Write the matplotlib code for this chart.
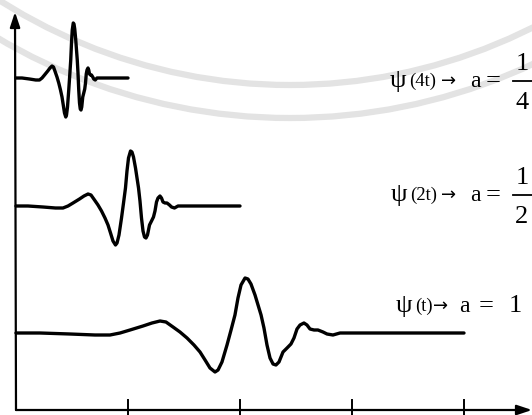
import matplotlib
matplotlib.use("Agg")
import matplotlib.pyplot as plt
from matplotlib.patches import Arc
import numpy as np

# Mother wavelet psi(t), read from the a=1 trace (t in tick units, value in px above baseline)
psi_t = [0.0, 0.214, 0.482, 0.705, 0.839, 0.929, 1.018, 1.134, 1.214, 1.286,
         1.339, 1.402, 1.464, 1.527, 1.589, 1.643, 1.688, 1.732, 1.777, 1.804,
         1.839, 1.884, 1.920, 1.955, 1.982, 2.009, 2.045, 2.071, 2.098, 2.134,
         2.161, 2.188, 2.214, 2.241, 2.268, 2.295, 2.321, 2.348, 2.384, 2.420,
         2.455, 2.482, 2.509, 2.536, 2.571, 2.598, 2.625, 2.661, 2.696, 2.741,
         2.777, 2.830, 2.893, 2.982, 4.0]
psi_v = [0, 0, -1, -2, -2, 0, 3, 7, 10, 12,
         11, 6, 1, -5, -12, -19, -27, -35, -39, -37,
         -29, -12, 3, 18, 35, 48, 55, 54, 49, 38,
         28, 18, 5, -12, -25, -31, -32, -29, -19, -15,
         -11, -5, 4, 8, 10, 8, 4, 3, 3, 1,
         -1, -2, 0, 0, 0]

scales = [1.0, 0.5, 0.25]           # a
offsets = [77, 204, 332]            # baseline heights of each trace
x_ticks = [1, 2, 3, 4]

W, H = 532, 415
fig = plt.figure(figsize=(W / 100, H / 100), dpi=100)
ax = fig.add_axes([0, 0, 1, 1])
ax.set_xlim(-16 / 112, (W - 16) / 112)
ax.set_ylim(-5, 410)
ax.axis("off")

def P(px, py):
    return (px - 16) / 112, 410 - py

# faint watermark arcs
cx, cy = P(290, -456)
for r in (541, 574):
    ax.add_patch(Arc((cx, cy), 2 * r / 112, 2 * r, theta1=180, theta2=360,
                     color="#e3e3e3", lw=4.5, zorder=0))

# axes with arrows
ax.annotate("", xy=P(532, 410), xytext=(0, 0),
            arrowprops=dict(arrowstyle="-|>,head_length=0.9,head_width=0.3",
                            lw=1.6, color="black", shrinkA=0, shrinkB=0))
ax.annotate("", xy=P(15, 12), xytext=(0, 0),
            arrowprops=dict(arrowstyle="-|>,head_length=0.9,head_width=0.3",
                            lw=1.6, color="black", shrinkA=0, shrinkB=0))
for xt in x_ticks:
    ax.plot([xt, xt], [-6, 10], color="black", lw=1.4)

# wavelet traces
t = np.array(psi_t)
v = np.array(psi_v)
for a, off in zip(scales, offsets):
    ax.plot(t * a, v + off, color="black", lw=2.4, solid_joinstyle="round",
            solid_capstyle="round")

serif = ["Liberation Serif", "DejaVu Serif"]

def txt(px, py, s, size, fam=serif):
    x, y = P(px, py)
    ax.text(x, y, s, fontsize=size, family=fam, ha="left", va="baseline")

# labels
rows = [
    # (psi_x, baseline_y, arg, arrow_x, fraction)
    (390, 87, "(4t)", 441, ("1", "4")),
    (391, 201, "(2t)", 441, ("1", "2")),
    (396, 312, "(t)", 433, None),
]
for px, py, arg, arx, frac in rows:
    txt(px, py, "\u03c8", 19)
    txt(px + 19, py - 1, arg, 13.5)
    txt(arx, py - 1, "\u2192", 13, ["DejaVu Sans"])
    txt(470 if frac else 459, py, "a", 17)
    txt(486 if frac else 479, py, "=", 19)
    if frac:
        bar = py - 6
        txt(516, bar - 11, frac[0], 19)
        bx0, by = P(513, bar)
        bx1, _ = P(535, bar)
        ax.plot([bx0, bx1], [by, by], color="black", lw=1.3)
        txt(515, bar + 28, frac[1], 19)
    else:
        txt(509, py, "1", 19)

fig.savefig("out.png", dpi=100)
